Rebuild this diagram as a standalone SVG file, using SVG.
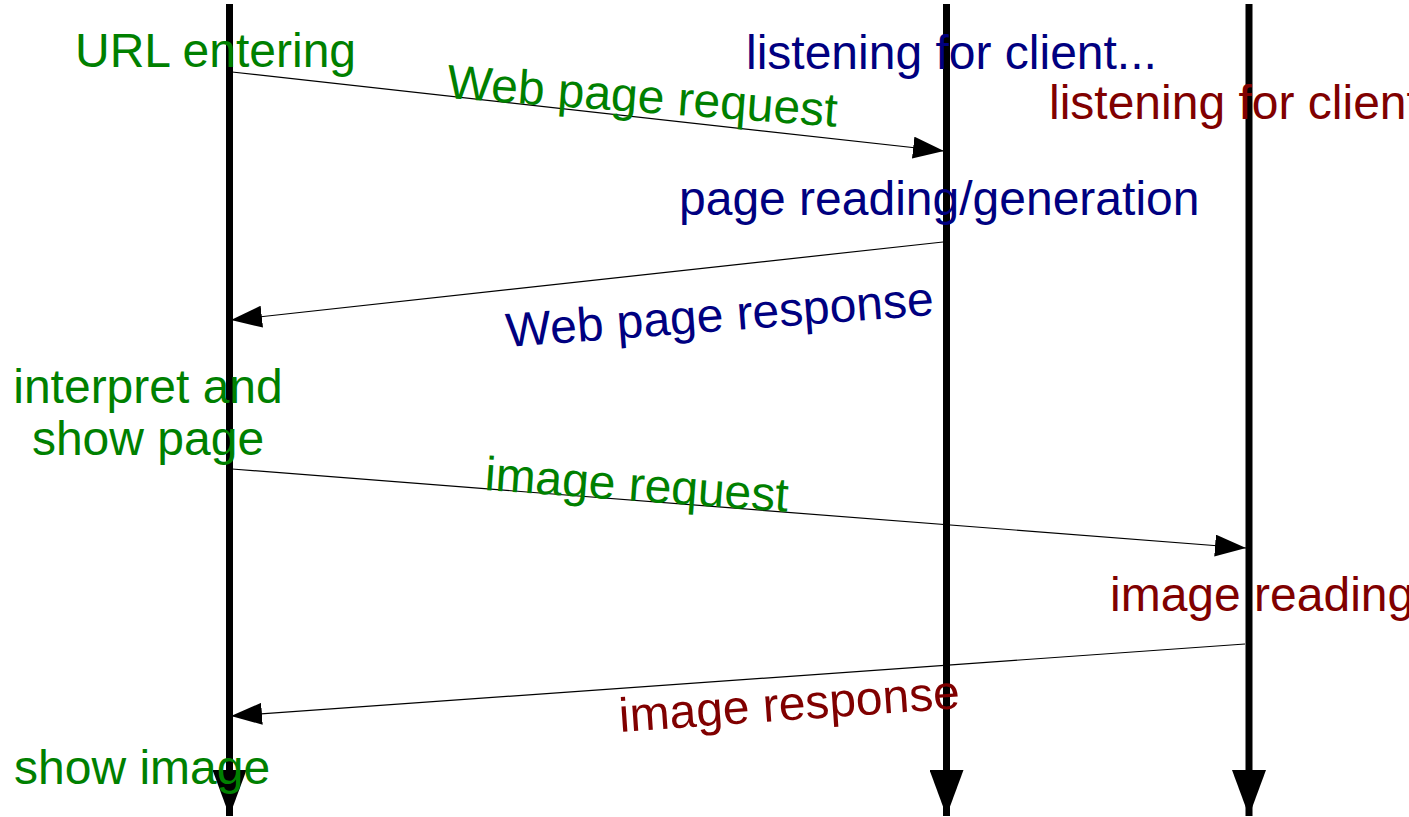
<svg xmlns="http://www.w3.org/2000/svg" width="1409" height="817" viewBox="0 0 1409 817">
<style>
text { font-family: "Liberation Sans", Arial, sans-serif; font-size: 48px; }
.g { fill: #008000; }
.b { fill: #000080; }
.r { fill: #800000; }
.life { stroke: #000; stroke-width: 7; fill: none; marker-end: url(#bigArrow); }
.msg { stroke: #000; stroke-width: 1.2; fill: none; marker-end: url(#smallArrow); }
</style>
<defs>
<marker id="smallArrow" markerUnits="userSpaceOnUse" markerWidth="32" markerHeight="22" refX="31" refY="11" orient="auto" viewBox="0 0 32 22">
<path d="M0,0 L31,11 L0,22 Z" fill="#000"/>
</marker>
<marker id="bigArrow" markerUnits="userSpaceOnUse" markerWidth="47" markerHeight="34" refX="46" refY="17" orient="auto" viewBox="0 0 47 34">
<path d="M0,0 L46,17 L0,34 Z" fill="#000"/>
</marker>
</defs>
<g id="lifelines">
<line id="client-line" class="life" x1="229.5" y1="4" x2="229.5" y2="816"/>
<line id="server1-line" class="life" x1="946.5" y1="4" x2="946.5" y2="816"/>
<line id="server2-line" class="life" x1="1249" y1="4" x2="1249" y2="816"/>
</g>
<g id="connectors">
<line class="msg" x1="232" y1="72" x2="944" y2="151"/>
<line class="msg" x1="943" y1="242" x2="231" y2="320"/>
<line class="msg" x1="232" y1="469" x2="1246" y2="548"/>
<line class="msg" x1="1245" y1="644" x2="231" y2="716"/>
</g>
<g id="client">
<text class="g" x="75" y="67">URL entering</text>
<text class="g" x="148" y="403" text-anchor="middle">interpret and</text>
<text class="g" x="148" y="455" text-anchor="middle">show page</text>
<text class="g" x="14" y="784">show image</text>
</g>
<g id="server1">
<text class="b" x="746" y="69">listening for client...</text>
<text class="b" x="679" y="215">page reading/generation</text>
</g>
<g id="server2">
<text class="r" x="1049" y="119">listening for client</text>
<text class="r" x="1110" y="611">image reading</text>
</g>
<g id="labels">
<text class="g" transform="translate(446,98) rotate(4.2)">Web page request</text>
<text class="b" transform="translate(507,347) rotate(-4.3)">Web page response</text>
<text class="g" transform="translate(484,490) rotate(4.1)">image request</text>
<text class="r" transform="translate(620,732) rotate(-4)">image response</text>
</g>
</svg>
